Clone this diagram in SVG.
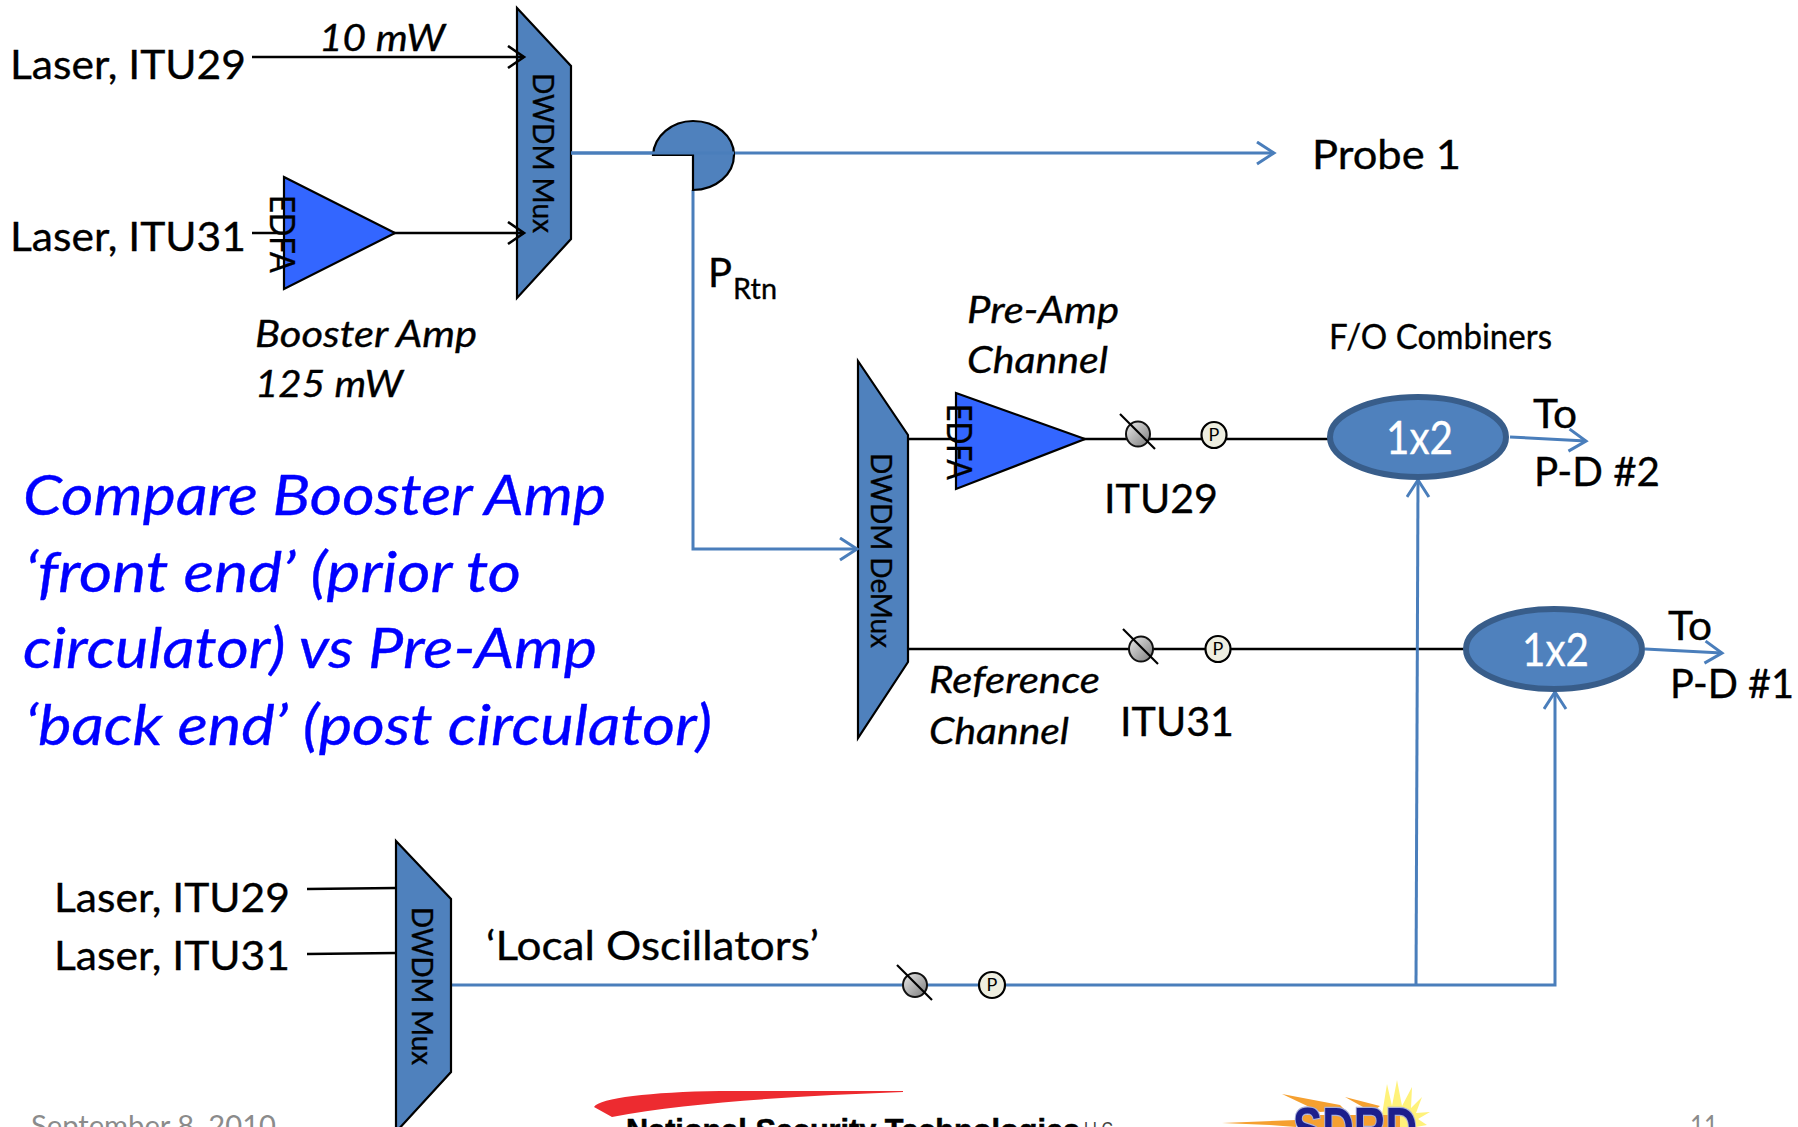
<svg xmlns="http://www.w3.org/2000/svg" width="1798" height="1127" viewBox="0 0 1798 1127">
<style>
text{font-family:Lato,"Open Sans","Liberation Sans",sans-serif;fill:#000;stroke:#000;stroke-width:.35}
.l{font-size:41px}
.i{font-size:37px;font-style:italic}
.b{font-size:57px;font-style:italic;fill:#0000ff;stroke:#0000ff}
.s{font-size:34px}
.w{font-size:46px;fill:#fff;stroke:#fff}
.v{font-size:29px}
.e{font-size:35px}
.g{font-size:29px;fill:#8b8b8b;stroke:none}
.blk{fill:none;stroke:#000;stroke-width:2.6}
.blu{fill:none;stroke:#4a7ebb;stroke-width:3}
.shape{fill:#4f81bd;stroke:#000;stroke-width:2.2}
.amp{fill:#3366ff;stroke:#000;stroke-width:2.2}
.cmb{fill:#4f81bd;stroke:#385d8a;stroke-width:6}
.p{fill:#eeeee0;stroke:#000;stroke-width:2.2}
.iso{fill:url(#g);stroke:#111;stroke-width:2}
.sl{stroke:#000;stroke-width:2.2;fill:none}
.pt{font-size:18px;stroke-width:0}
.h{font-family:"Liberation Sans",sans-serif}
</style>
<defs>
<linearGradient id="g" x1="0" y1="0" x2="1" y2="1"><stop offset="0" stop-color="#ececec"/><stop offset="1" stop-color="#7a7a7a"/></linearGradient>
<marker id="ak" markerWidth="24" markerHeight="26" refX="18" refY="12" orient="auto" markerUnits="userSpaceOnUse"><path d="M2 1L18 12L2 23" fill="none" stroke="#000" stroke-width="2.6"/></marker>
<marker id="ab" markerWidth="26" markerHeight="28" refX="19" refY="12" orient="auto" markerUnits="userSpaceOnUse"><path d="M2 1L19 12L2 23" fill="none" stroke="#4a7ebb" stroke-width="3"/></marker>
</defs>

<g id="mux-1">
<path class="shape" d="M517 8L571 66V239L517 298Z"/>
<text class="v" transform="translate(533 73) rotate(90)" textLength="160" lengthAdjust="spacingAndGlyphs">DWDM Mux</text>
</g>
<g id="demux">
<path class="shape" d="M858 361L908 435V662L858 738Z"/>
<text class="v" transform="translate(871 453) rotate(90)" textLength="195" lengthAdjust="spacingAndGlyphs">DWDM DeMux</text>
</g>

<g id="connectors">
<path class="blk" d="M252 57H524" marker-end="url(#ak)"/>
<path class="blk" d="M252 233H524" marker-end="url(#ak)"/>
<path class="blu" d="M571 153H1274" marker-end="url(#ab)"/>
<path class="blu" d="M693 190V549H857" marker-end="url(#ab)"/>
<path class="blk" d="M908 439H1330"/>
<path class="blk" d="M908 649H1466"/>
<path class="blk" d="M307 889L396 888"/>
<path class="blk" d="M307 954L396 953"/>
<path class="blu" d="M451 985H1555V692" marker-end="url(#ab)"/>
<path class="blu" d="M1416 985L1418 480" marker-end="url(#ab)"/>
<path class="blu" d="M1510 437L1586 441" marker-end="url(#ab)"/>
<path class="blu" d="M1645 649L1722 653" marker-end="url(#ab)"/>
</g>

<g id="label-laser-29"><text class="l" x="10" y="79" textLength="236" lengthAdjust="spacingAndGlyphs">Laser, ITU29</text></g>
<g id="label-laser-31"><text class="l" x="10" y="251" textLength="236" lengthAdjust="spacingAndGlyphs">Laser, ITU31</text></g>
<g id="label-10mw"><text class="i" x="319" y="51" textLength="126" lengthAdjust="spacingAndGlyphs">10 mW</text></g>

<g id="booster-edfa">
<path class="amp" d="M284 177L395 233L284 289Z"/>
<text class="e" transform="translate(270 195) rotate(90)" textLength="78" lengthAdjust="spacingAndGlyphs">EDFA</text>
</g>
<g id="booster-label">
<text class="i" x="255" y="347" textLength="222" lengthAdjust="spacingAndGlyphs">Booster Amp</text>
<text class="i" x="255" y="397" textLength="148" lengthAdjust="spacingAndGlyphs">125 mW</text>
</g>

<g id="circulator">
<path class="shape" d="M653 155C654 136 672 121 693 121C716 121 734 136 734 155C734 174 716 190 693 190V155Z"/>
</g>
<path class="blu" d="M571 153H734"/>

<g id="probe-1"><text class="l" x="1312" y="169" textLength="149" lengthAdjust="spacingAndGlyphs">Probe 1</text></g>
<g id="prtn"><text class="l" x="708" y="287" textLength="24" lengthAdjust="spacingAndGlyphs">P</text><text x="733" y="299" style="font-size:28px" textLength="44" lengthAdjust="spacingAndGlyphs">Rtn</text></g>

<g id="preamp-edfa">
<path class="amp" d="M956 393L1085 439L956 489Z"/>
<text class="e" transform="translate(947 404) rotate(90)" textLength="76" lengthAdjust="spacingAndGlyphs">EDFA</text>
</g>
<g id="preamp-label">
<text class="i" x="967" y="323" textLength="152" lengthAdjust="spacingAndGlyphs">Pre-Amp</text>
<text class="i" x="967" y="373" textLength="141" lengthAdjust="spacingAndGlyphs">Channel</text>
</g>

<g id="isolator-29">
<ellipse class="iso" cx="1138" cy="434" rx="12" ry="12.5"/><path class="sl" d="M1120 414L1155 449"/>
<ellipse class="p" cx="1214" cy="435" rx="12.5" ry="13"/><text class="pt" x="1214" y="441" text-anchor="middle">P</text>
</g>
<g id="label-itu29"><text class="l" x="1104" y="513" textLength="114" lengthAdjust="spacingAndGlyphs">ITU29</text></g>

<g id="isolator-31">
<ellipse class="iso" cx="1141" cy="649" rx="12" ry="12.5"/><path class="sl" d="M1123 629L1158 664"/>
<ellipse class="p" cx="1218" cy="649" rx="12.5" ry="13"/><text class="pt" x="1218" y="655" text-anchor="middle">P</text>
</g>
<g id="label-itu31"><text class="l" x="1120" y="736" textLength="114" lengthAdjust="spacingAndGlyphs">ITU31</text></g>

<g id="reference-label">
<text class="i" x="929" y="693" textLength="171" lengthAdjust="spacingAndGlyphs">Reference</text>
<text class="i" x="929" y="744" textLength="140" lengthAdjust="spacingAndGlyphs">Channel</text>
</g>

<g id="fo-label"><text class="s" x="1329" y="349" textLength="223" lengthAdjust="spacingAndGlyphs">F/O Combiners</text></g>

<g id="combiner-2">
<ellipse class="cmb" cx="1418" cy="437" rx="88" ry="40"/>
<text class="w" x="1386" y="454" textLength="67" lengthAdjust="spacingAndGlyphs">1x2</text>
</g>
<g id="to-pd2">
<text class="l" x="1533" y="428" textLength="44" lengthAdjust="spacingAndGlyphs">To</text>
<text class="l" x="1534" y="486" textLength="126" lengthAdjust="spacingAndGlyphs">P-D #2</text>
</g>
<g id="combiner-1">
<ellipse class="cmb" cx="1554" cy="649" rx="88" ry="40"/>
<text class="w" x="1522" y="666" textLength="67" lengthAdjust="spacingAndGlyphs">1x2</text>
</g>
<g id="to-pd1">
<text class="l" x="1668" y="640" textLength="44" lengthAdjust="spacingAndGlyphs">To</text>
<text class="l" x="1670" y="698" textLength="124" lengthAdjust="spacingAndGlyphs">P-D #1</text>
</g>

<g id="note">
<text class="b" x="23" y="515" textLength="583" lengthAdjust="spacingAndGlyphs">Compare Booster Amp</text>
<text class="b" x="25" y="592" textLength="496" lengthAdjust="spacingAndGlyphs">‘front end’ (prior to</text>
<text class="b" x="23" y="668" textLength="574" lengthAdjust="spacingAndGlyphs">circulator) vs Pre-Amp</text>
<text class="b" x="25" y="745" textLength="687" lengthAdjust="spacingAndGlyphs">‘back end’ (post circulator)</text>
</g>

<g id="label-lo-29"><text class="l" x="54" y="912" textLength="236" lengthAdjust="spacingAndGlyphs">Laser, ITU29</text></g>
<g id="label-lo-31"><text class="l" x="54" y="970" textLength="236" lengthAdjust="spacingAndGlyphs">Laser, ITU31</text></g>

<g id="mux-2">
<path class="shape" d="M396 841L451 899V1072L396 1132Z"/>
<text class="v" transform="translate(412 907) rotate(90)" textLength="158" lengthAdjust="spacingAndGlyphs">DWDM Mux</text>
</g>
<g id="lo-label"><text class="l" x="486" y="960" textLength="333" lengthAdjust="spacingAndGlyphs">‘Local Oscillators’</text></g>
<g id="isolator-lo">
<ellipse class="iso" cx="915" cy="985" rx="12" ry="12"/><path class="sl" d="M897 965L932 1000"/>
<ellipse class="p" cx="992" cy="985" rx="13" ry="13"/><text class="pt" x="992" y="991" text-anchor="middle">P</text>
</g>

<g id="footer">
<text class="g" x="31" y="1136" textLength="245" lengthAdjust="spacingAndGlyphs">September 8, 2010</text>
<text class="g" x="1690" y="1136" textLength="28" lengthAdjust="spacingAndGlyphs">11</text>
<path d="M594 1107C600 1098 650 1092 720 1091L903 1091V1092C800 1096 690 1102 612 1117Z" fill="#ed2b30"/>
<text class="h" x="626" y="1141" style="font-size:32px;font-weight:bold;stroke-width:.6" textLength="454" lengthAdjust="spacingAndGlyphs">National Security Technologies</text>
<text class="h" x="1084" y="1136" style="font-size:20px;fill:#444;stroke:none" textLength="29" lengthAdjust="spacingAndGlyphs">LLC</text>
</g>
<g id="sdrd-logo">
<path d="M1397 1080L1402 1106L1412 1087L1411 1108L1422 1097L1416 1113L1430 1112L1418 1119L1427 1125L1416 1127H1380L1387 1084L1392 1106Z" fill="#fff27a"/>
<path d="M1282 1094L1340 1105L1345 1110L1320 1112Z" fill="#f5a030"/>
<path d="M1345 1097L1380 1106L1372 1112Z" fill="#f5a030"/>
<path d="M1222 1123L1296 1120V1127L1270 1125Z" fill="#f5a030"/>
<path d="M1300 1127L1302 1115H1400V1127Z" fill="#f5a030"/>
<text class="h" x="1293" y="1149" style="font-size:60px;font-weight:bold;fill:#1c1f8c;stroke:#aab0d8;stroke-width:2.5;paint-order:stroke" textLength="124" lengthAdjust="spacingAndGlyphs">SDRD</text>
</g>
</svg>
